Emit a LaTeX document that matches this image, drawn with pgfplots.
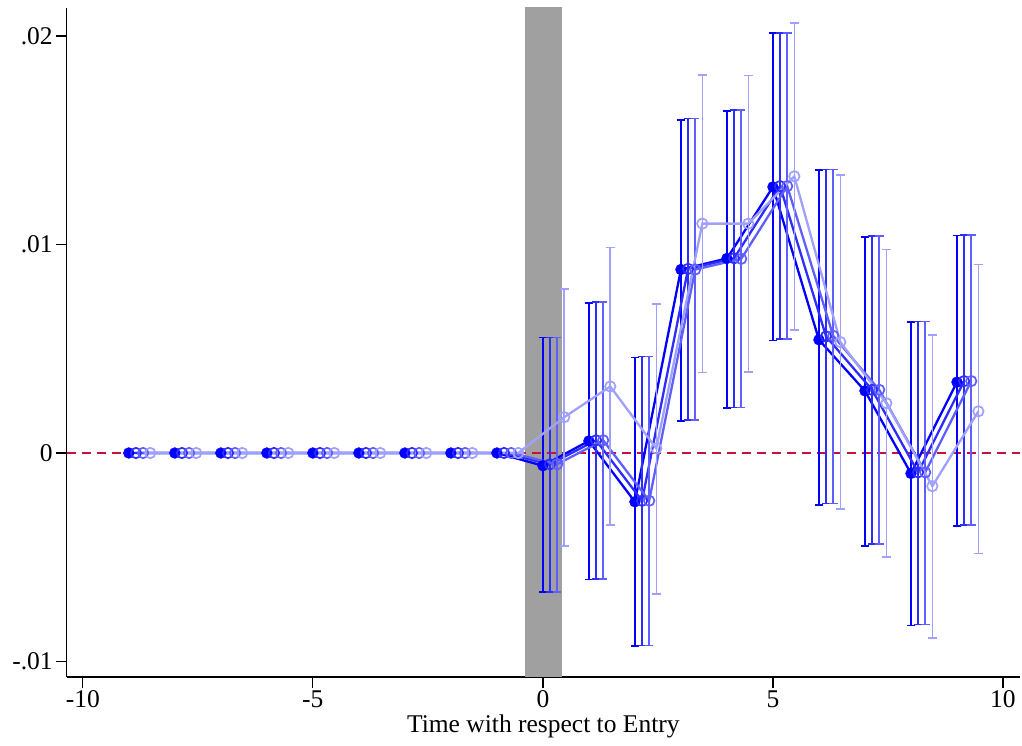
\documentclass[border=0pt]{standalone}
\usepackage{pgfplots}
\pgfplotsset{compat=1.18}
\usepackage{pgfplotstable}
\usepackage{fontspec}
\setmainfont{Liberation Serif}
\definecolor{sA}{RGB}{0,0,255}
\definecolor{sB}{RGB}{45,45,255}
\definecolor{sC}{RGB}{95,95,255}
\definecolor{sD}{RGB}{160,160,255}
\definecolor{refred}{RGB}{200,16,56}
\definecolor{band}{RGB}{160,160,160}

\pgfplotstableread{
x y lo hi
-9 0 0 0
-8 0 0 0
-7 0 0 0
-6 0 0 0
-5 0 0 0
-4 0 0 0
-3 0 0 0
-2 0 0 0
-1 0 0 0
0 -0.00061 -0.00667 0.00554
1 0.00058 -0.00607 0.00720
2 -0.00234 -0.00926 0.00458
3 0.00880 0.00155 0.01598
4 0.00933 0.00215 0.01640
5 0.01276 0.00540 0.02014
6 0.00543 -0.00250 0.01357
7 0.00298 -0.00446 0.01037
8 -0.00098 -0.00827 0.00627
9 0.00340 -0.00350 0.01043
}\serA

\pgfplotstableread{
x y lo hi
-8.845 0 0 0
-7.845 0 0 0
-6.845 0 0 0
-5.845 0 0 0
-4.845 0 0 0
-3.845 0 0 0
-2.845 0 0 0
-1.845 0 0 0
-0.845 0 0 0
0.155 -0.00054 -0.00667 0.00554
1.155 0.00061 -0.00603 0.00724
2.155 -0.00229 -0.00923 0.00463
3.155 0.00883 0.00159 0.01604
4.155 0.00934 0.00218 0.01646
5.155 0.01280 0.00547 0.02014
6.155 0.00559 -0.00242 0.01360
7.155 0.00303 -0.00438 0.01040
8.155 -0.00093 -0.00822 0.00630
9.155 0.00345 -0.00346 0.01045
}\serB

\pgfplotstableread{
x y lo hi
-8.69 0 0 0
-7.69 0 0 0
-6.69 0 0 0
-5.69 0 0 0
-4.69 0 0 0
-3.69 0 0 0
-2.69 0 0 0
-1.69 0 0 0
-0.69 0 0 0
0.31 -0.00054 -0.00667 0.00554
1.31 0.00061 -0.00603 0.00724
2.31 -0.00229 -0.00923 0.00463
3.31 0.00880 0.00159 0.01604
4.31 0.00931 0.00218 0.01646
5.31 0.01280 0.00547 0.02014
6.31 0.00562 -0.00242 0.01360
7.31 0.00303 -0.00438 0.01040
8.31 -0.00093 -0.00822 0.00630
9.31 0.00345 -0.00346 0.01045
}\serC

\pgfplotstableread{
x y lo hi
-8.535 0 0 0
-7.535 0 0 0
-6.535 0 0 0
-5.535 0 0 0
-4.535 0 0 0
-3.535 0 0 0
-2.535 0 0 0
-1.535 0 0 0
-0.535 0 0 0
0.465 0.00172 -0.00446 0.00787
1.465 0.00319 -0.00346 0.00986
2.465 0.00022 -0.00675 0.00715
3.465 0.01100 0.00386 0.01813
4.465 0.01100 0.00388 0.01810
5.465 0.01327 0.00591 0.02061
6.465 0.00532 -0.00269 0.01333
7.465 0.00239 -0.00498 0.00976
8.465 -0.00159 -0.00888 0.00567
9.465 0.00200 -0.00482 0.00904
}\serD

\pgfplotsset{
  ser/.style={line width=2.3pt, mark=o, mark size=5.2pt,
    mark options={fill=white, line width=1.7pt, solid, draw=#1},
    color=#1,
    error bars/y dir=both, error bars/y explicit,
    error bars/error bar style={line width=1.6pt, color=#1},
    error bars/error mark options={line width=1.7pt, mark size=4.3pt, rotate=90, color=#1}},
}

\begin{document}
\begin{tikzpicture}
\begin{axis}[
  scale only axis, width=953.3pt, height=669pt,
  xmin=-10.35, xmax=10.37, ymin=-0.010743, ymax=0.021343,
  axis x line*=bottom, axis y line*=left,
  axis line style={line width=1.4pt, -},
  xtick={-10,-5,0,5,10}, xticklabels={-10,-5,0,5,10},
  ytick={-0.01,0,0.01,0.02}, yticklabels={-.01,0,.01,.02},
  scaled y ticks=false, scaled x ticks=false,
  tick align=outside, major tick length=10.5pt,
  tick style={line width=1.3pt, black},
  ticklabel style={font=\fontsize{25.5}{30}\selectfont},
  label style={font=\fontsize{25.5}{30}\selectfont},
  xlabel={Time with respect to Entry},
  /pgf/number format/assume math mode=true,
]
\addplot[fill=band, draw=none, forget plot] coordinates {(-0.39,-0.0108) (0.41,-0.0108) (0.41,0.0214) (-0.39,0.0214)} -- cycle;
\addplot[refred, line width=1.7pt, dash pattern=on 9pt off 6pt] coordinates {(-10.35,0) (10.37,0)};

\addplot[ser=sA, mark=*, mark size=5.4pt, mark options={fill=sA, draw=sA, line width=0.5pt}]
  table[x=x, y=y, y error plus expr=\thisrow{hi}-\thisrow{y}, y error minus expr=\thisrow{y}-\thisrow{lo}] {\serA};
\addplot[ser=sB]
  table[x=x, y=y, y error plus expr=\thisrow{hi}-\thisrow{y}, y error minus expr=\thisrow{y}-\thisrow{lo}] {\serB};
\addplot[ser=sC]
  table[x=x, y=y, y error plus expr=\thisrow{hi}-\thisrow{y}, y error minus expr=\thisrow{y}-\thisrow{lo}] {\serC};
\addplot[ser=sD]
  table[x=x, y=y, y error plus expr=\thisrow{hi}-\thisrow{y}, y error minus expr=\thisrow{y}-\thisrow{lo}] {\serD};
\end{axis}
\pgfresetboundingbox
\path[use as bounding box] (-66.7pt,-69pt) rectangle (955.3pt,677pt);
\end{tikzpicture}
\end{document}
